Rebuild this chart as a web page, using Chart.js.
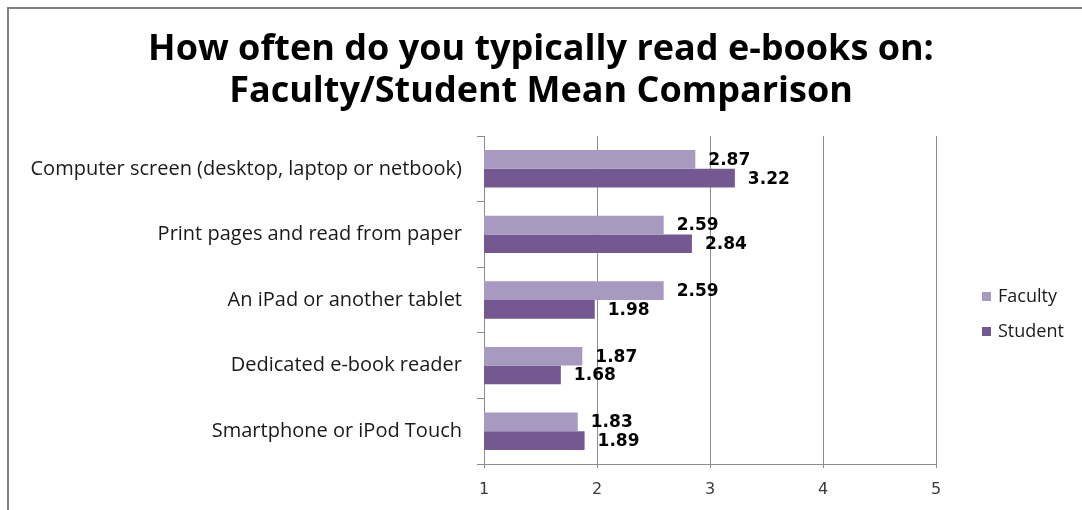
<!DOCTYPE html>
<html lang="en">
<head>
  <meta charset="UTF-8">
  <title>E-book reading: Faculty/Student Mean Comparison</title>
  <script src="https://cdn.jsdelivr.net/npm/chart.js"></script>
  <style>
    body { margin: 0; background: #fff; }
    #wrap { position: relative; width: 1082px; height: 510px; }
    #frame {
      position: absolute; left: 7px; top: 7px; right: 0; bottom: 0;
      border-top: 2px solid #7f7f7f; border-left: 2px solid #7f7f7f;
      pointer-events: none;
    }
  </style>
</head>
<body>
<div id="wrap">
  <canvas id="chart" width="1082" height="510"></canvas>
  <div id="frame"></div>
</div>
<script>
  const titleLines = ['How often do you typically read e-books on:', 'Faculty/Student Mean Comparison'];
  const categories = [
    'Computer screen (desktop, laptop or netbook)',
    'Print pages and read from paper',
    'An iPad or another tablet',
    'Dedicated e-book reader',
    'Smartphone or iPod Touch'
  ];
  const faculty = [2.87, 2.59, 2.59, 1.87, 1.83];
  const student = [3.22, 2.84, 1.98, 1.68, 1.89];
  const xMin = 1, xMax = 5;

  const FACULTY_COLOR = '#a899c0';
  const STUDENT_COLOR = '#735892';
  const GRID = '#8c8c8c';

  // title, legend and value labels drawn by hand so they sit where the original had them
  const extras = {
    id: 'extras',
    afterDatasetsDraw(chart) {
      const ctx = chart.ctx;
      ctx.save();
      ctx.fillStyle = '#000';
      ctx.font = 'bold 17px "DejaVu Sans"';
      ctx.textBaseline = 'middle';
      ctx.textAlign = 'left';
      chart.data.datasets.forEach((ds, i) => {
        chart.getDatasetMeta(i).data.forEach((bar, j) => {
          ctx.fillText(ds.data[j].toFixed(2), bar.x + 13, bar.y + 1);
        });
      });
      ctx.restore();
    },
    afterDraw(chart) {
      const ctx = chart.ctx;
      ctx.save();
      ctx.fillStyle = '#000';
      ctx.font = 'bold 36px "Open Sans"';
      ctx.textAlign = 'center';
      ctx.textBaseline = 'middle';
      titleLines.forEach((t, i) => ctx.fillText(t, chart.width / 2, 50 + i * 42));

      ctx.font = '18px "Open Sans"';
      ctx.textAlign = 'left';
      chart.data.datasets.forEach((ds, i) => {
        const y = 297 + i * 35;
        ctx.fillStyle = ds.backgroundColor;
        ctx.fillRect(982, y - 5, 9, 9);
        ctx.fillStyle = '#1a1a1a';
        ctx.fillText(ds.label, 998, y);
      });
      ctx.restore();
    }
  };

  new Chart(document.getElementById('chart'), {
    type: 'bar',
    data: {
      labels: categories,
      datasets: [
        { label: 'Faculty', data: faculty, backgroundColor: FACULTY_COLOR },
        { label: 'Student', data: student, backgroundColor: STUDENT_COLOR }
      ]
    },
    options: {
      indexAxis: 'y',
      responsive: false,
      animation: false,
      devicePixelRatio: 1,
      categoryPercentage: 0.57,
      barPercentage: 1,
      layout: { padding: { top: 136, right: 146, left: 0, bottom: 0 } },
      plugins: {
        legend: { display: false },
        title: { display: false },
        tooltip: { enabled: false }
      },
      scales: {
        x: {
          min: xMin,
          max: xMax,
          ticks: { stepSize: 1, color: '#3a3a3a', font: { family: 'DejaVu Sans', size: 16 }, padding: 12 },
          grid: { color: GRID, tickLength: 4 },
          border: { color: GRID },
          afterFit(scale) { scale.height = 46; }
        },
        y: {
          ticks: { color: '#1a1a1a', font: { family: 'Open Sans', size: 20 }, padding: 15 },
          grid: { drawOnChartArea: false, color: GRID, tickLength: 7 },
          border: { color: GRID },
          afterFit(scale) { scale.width = 484; }
        }
      }
    },
    plugins: [extras]
  });
</script>
</body>
</html>
